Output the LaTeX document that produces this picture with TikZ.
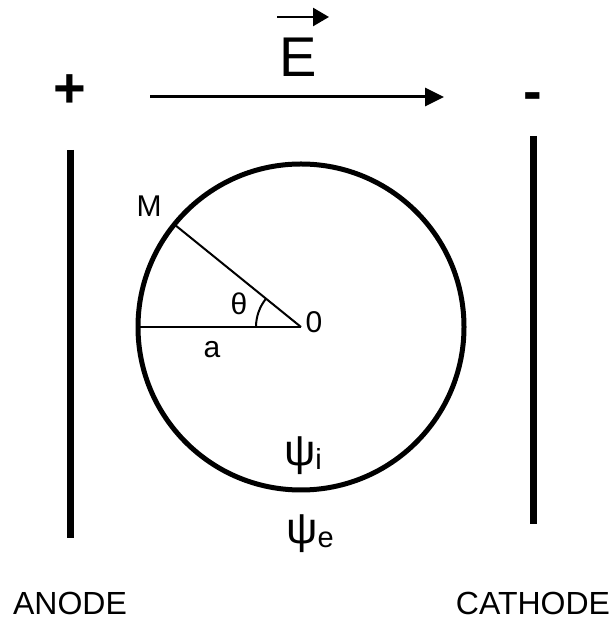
\documentclass[tikz,border=0pt]{standalone}
\usepackage{fontspec}
\setmainfont{Liberation Sans}
\usetikzlibrary{arrows.meta,calc}

\newcommand{\potsym}[1]{{\fontsize{22}{26}\selectfont ψ}\raisebox{-2pt}{\fontsize{14.5}{17}\selectfont #1}}

\begin{document}
\begin{tikzpicture}[
  x=0.5pt, y=0.5pt,
  font=\fontsize{16}{19}\selectfont,
  plate/.style={line width=3.5pt},
  flow/.style={-{Triangle[length=9.5pt, width=9pt]}, line width=1.5pt},
  vecarrow/.style={-{Triangle[length=8pt, width=9pt]}, line width=1.3pt},
  thin-line/.style={line width=1pt},
  lbl/.style={inner sep=0pt, font=\fontsize{15}{18}\selectfont},
  sign/.style={inner sep=0pt, font=\fontsize{28}{32}\selectfont\bfseries}
]
\useasboundingbox (0,0) rectangle (613,620);

% electrodes
\coordinate (anode-top) at (70,470);
\coordinate (anode-bot) at (70,82);
\coordinate (cathode-top) at (533,484);
\coordinate (cathode-bot) at (533,96);
\draw[plate] (anode-top) -- (anode-bot);
\draw[plate] (cathode-top) -- (cathode-bot);
\node[sign] (plus) at (70,529) {+};
\node[sign] (minus) at (533,518) {-};
\node (anode) at (70,17) {ANODE};
\node (cathode) at (533,17) {CATHODE};

% field
\coordinate (field-start) at (150,523);
\coordinate (field-end) at (444,523);
\draw[flow] (field-start) -- (field-end);
\node[inner sep=0pt, font=\fontsize{28}{32}\selectfont] (e-label) at (298,563) {E};
\coordinate (vec-start) at (277,603);
\coordinate (vec-end) at (329,603);
\draw[vecarrow] (vec-start) -- (vec-end);

% cell
\coordinate (O) at (301,293);
\draw[line width=2.5pt] (O) circle[radius=81.5pt];
\coordinate (rim-left) at ($(O)+(180:163)$);
\coordinate (rim-m) at ($(O)+(141:163)$);
\draw[thin-line] (O) -- (rim-left);
\draw[thin-line] (O) -- (rim-m);
\draw[thin-line] ($(O)+(180:45)$) arc[start angle=180, end angle=141, radius=22.5pt];

\node[lbl] (m-label) at (149,414) {M};
\node[lbl] (theta-label) at (239,316) {θ};
\node[lbl] (o-label) at (314,298) {0};
\node[lbl] (a-label) at (212,270) {a};
\node[inner sep=0pt] (psi-i) at (303,164) {\potsym{i}};
\node[inner sep=0pt] (psi-e) at (310,86) {\potsym{e}};
\end{tikzpicture}
\end{document}
